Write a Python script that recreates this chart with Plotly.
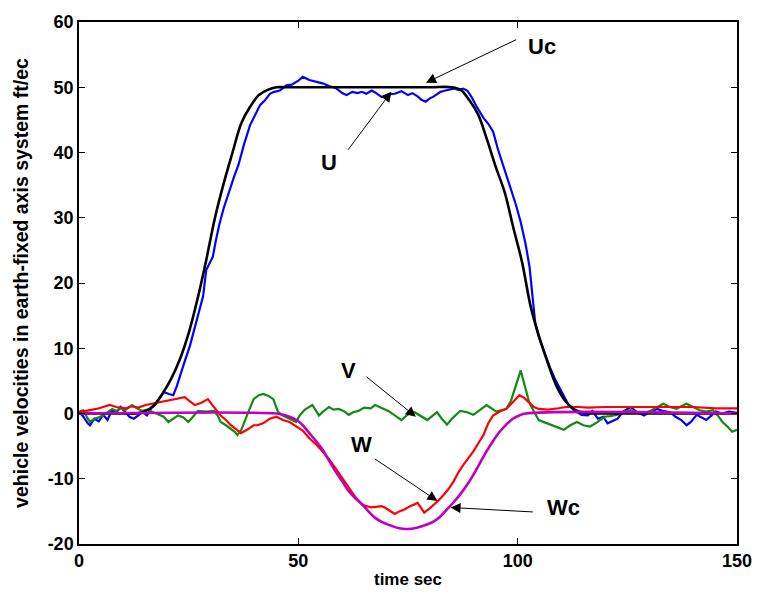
import plotly.graph_objects as go

# ---------------- data ----------------
u_t = [0, 1, 2, 2.5, 3.5, 4.5, 5.5, 6.5, 7.5, 8.5, 9.5, 10.5, 11.5, 12.5, 13.5, 14.5, 15.5, 16.5, 17.5, 18.5,
       19.3, 20.5, 21.5, 22.3, 23, 24, 25.3, 26.7, 27.5, 28.3, 29, 30, 30.5, 31.2, 32, 33, 34.2, 35.3, 36.4, 37.6,
       39, 40.2, 41.3, 42.4, 43.5, 44.5, 45.8, 47.3, 48.5, 50, 51, 52.5, 54, 55.5, 57, 58.5, 60, 61, 62.3, 63.5,
       64.5, 65.5, 66.7, 67.5, 69, 70.5, 72, 73.5, 75, 76, 77.2, 78, 79, 80, 80.9, 82.4, 83.5, 85.4, 86.5, 87.6,
       88.5, 89.5, 90.5, 91.3, 92.2, 93.3, 94.4, 95.5, 96.6, 97.6, 98.5, 99.6, 100.7, 101.8, 102.7, 103.4, 104,
       104.8, 105.5, 106.3, 107.4, 108.5, 109.5, 110.5, 111.6, 113, 114.6, 116, 117, 118.3, 119.5, 120.5, 121.5,
       122.8, 124, 125.8, 127, 128.8, 130, 131.8, 133, 134.8, 136, 137.3, 138.5, 139.5, 140.8, 142, 143, 144,
       145.2, 146.5, 148.2, 150]
u_v = [0.3, -0.5, -1.5, -1.8, -0.8, -1.2, -0.2, -1.0, 0.5, 0.2, 1.0, 0.3, -0.5, -0.8, -0.3, 0.2, -0.3, 0.8, 1.5, 2.5,
       3.3, 3.0, 2.8, 4.2, 5.8, 7.8, 10.4, 13.9, 16, 18, 22, 23.3, 24, 26.5, 29, 31.5, 34.1, 36.2, 38.2, 41.2,
       44.2, 45.8, 47.3, 48, 49, 49.3, 49.5, 50.3, 50.4, 51, 51.6, 51.1, 50.9, 50.6, 50.2, 49.9, 49.1, 48.8, 49.3, 49.1,
       49.3, 49, 49.5, 49.2, 48.5, 48.9, 49, 49.4, 48.8, 49.1, 48.6, 48.1, 47.8, 48.3, 48.6, 49.3, 49.5, 49.8, 49.6, 49.8,
       49.5, 48.5, 47.2, 46.3, 45.3, 44.4, 43.2, 40.5, 38.2, 36.4, 34.5, 32, 29.3, 26, 22.5, 18, 13.9,
       11.8, 10.5, 8.9, 7, 5.3, 4.0, 2.5, 1.3, 0.4, -0.2, -0.3, 0.4, -0.8, -0.5, -1.5, -1.2,
       -0.8, 0.3, 1.0, 0.3, -0.3, 0.2, 0.7, 0.4, 0.2, -0.5, -1.0, -1.8, -1.3, -0.2, -0.6, -1.0, -0.4,
       0.3, 0.0, 0.3, 0.1]

v_t = [0, 1, 2, 2.5, 3.5, 4.5, 5.4, 6.5, 7.6, 8.5, 9.5, 10.5, 12.1, 13.2, 14.4, 15.5, 16.5, 18.2, 19.3, 20.4,
       21.5, 22.6, 23.8, 24.9, 26, 27.1, 29, 30.8, 31.6, 32.3, 33.5, 34.6, 35.5, 36.1, 37, 38.3, 39.2, 39.8, 41, 42,
       43.2, 44.3, 45.4, 46.5, 48, 49.5, 50.3, 51.5, 53.2, 54, 54.7, 55.5, 57, 58, 59.2, 60.3, 61.5, 62.5, 63.7, 65,
       66.5, 67.5, 69, 70.5, 72, 73.5, 74.5, 75.5, 76.5, 78, 79.4, 80.5, 81.6, 82.7, 83.9, 85, 86.9, 88.5, 89.9, 91.5,
       92.9, 94, 95.1, 96.2, 97.4, 98.5, 99.6, 100.7, 101.8, 102.6, 103.4, 104.1, 104.8, 106.3, 107.8, 109, 110.5, 112,
       113.5, 115, 116.5, 118, 119.8, 121, 122.8, 124.3, 125.8, 127.3, 128.8, 130.5, 132, 133.2, 134.7, 136.2, 137.3,
       138.5, 140, 141.5, 143, 144.5, 145.6, 146.7, 147.8, 148.9, 150]
v_v = [0.3, 0.5, -0.8, -1.3, -0.8, -0.6, -0.3, 0.2, 0.7, 0.4, 0.8, 0.5, 1.3, 0.8, 0.4, 0.6, 0.3, -0.2, -0.5, -1.3,
       -0.8, -0.3, -0.6, -1.3, -0.5, 0.4, 0.3, 0.4, -0.3, -1.3, -1.8, -2.3, -2.8, -3.3, -2.5, -0.3, 1.2, 2.2, 2.8, 3.0,
       2.7, 2.2, 0.2, -0.3, -0.8, -1.3, -0.3, 0.6, 1.3, 0.5, -0.3, 0.2, 1.0, 0.6, 0.7, 0.4, -0.2, 0.2, 0.4, 0.9,
       0.8, 1.3, 0.8, 0.4, -0.3, -1.0, -0.4, 0.1, 0.2, -0.4, -1.0, -0.4, 0.2, -0.8, -1.7, -0.8, 0.4, 0.2, -0.2, 0.6,
       1.3, 0.8, 0.3, 0.5, 0.7, 2.0, 4.3, 6.6, 3.8, 1.8, 0.7, -0.2, -1.0, -1.4, -1.8, -2.2, -2.5, -1.8,
       -1.3, -1.8, -2.0, -1.4, -0.5, -0.4, -0.2, 0.3, 0.5, 0.2, 0.0, 0.5, 1.0, 1.5, 1.0, 0.7, 1.1,
       1.5, 1.0, 0.5, 0.3, 0.5, -0.3, -1.3, -2.0, -2.8, -2.5]

w_t = [0, 2, 4, 5.5, 7, 8.5, 10.7, 12, 13.5, 15.2, 16.7, 18.2, 19.6, 21.1, 22.6, 24.1, 25, 26.4, 27.8, 29.4,
       30.5, 31.6, 32.3, 33.5, 34.6, 35.8, 36.9, 38.3, 39.8, 40.6, 42, 43.5, 45, 46.5, 48, 49.6, 51, 52.5, 54, 55.5,
       57, 58.5, 60, 61.5, 63, 64.5, 65.5, 66.7, 68, 69, 69.7, 71, 72, 73, 74.2, 75.5, 77.2, 78, 78.7, 80,
       81, 82, 83.2, 84.3, 85.4, 86.5, 87.7, 88.8, 89.9, 91, 92.2, 93.3, 94.4, 95.9, 97.4, 99, 100.4, 101.5, 102.6,
       103.7, 104.8, 107, 109.3, 111, 113.8, 116, 120, 125, 130, 135, 140, 145, 150]
w_v = [0.2, 0.4, 0.7, 1.0, 1.3, 1.0, 0.8, 1.1, 0.9, 1.3, 1.5, 1.8, 2.0, 2.2, 2.4, 2.5, 2.0, 1.3, 1.6, 2.2,
       1.2, 0.2, -0.3, -1.0, -1.8, -2.4, -3.0, -2.5, -1.8, -1.8, -1.5, -0.8, -0.5, -1.0, -1.3, -2.0, -2.6, -3.8, -4.7, -5.8,
       -7.0, -8.4, -9.9, -11.4, -12.8, -13.9, -14.2, -14.4, -14.3, -14.2, -14.4, -15.0, -15.4, -15.0, -14.7, -14.2, -13.7, -14.5, -15.2, -14.5,
       -13.9, -13.3, -12.4, -11.5, -10.4, -9.0, -7.8, -6.8, -5.8, -4.6, -3.3, -1.5, -0.3, 0.3, 0.7, 1.8, 2.8, 2.4, 1.7,
       1.0, 0.7, 0.6, 0.8, 1.0, 1.0, 0.9, 1.0, 1.0, 0.9, 0.9, 1.0, 0.8, 0.8]

uc_t = [0, 5, 10, 13, 15, 17, 19, 21, 23, 25, 27, 29, 31, 33, 35, 37, 39, 41, 43, 45, 47, 50, 60, 70, 80, 85,
        87, 89, 91, 93, 95, 97, 99, 101, 103, 105, 107, 109, 111, 113, 115, 117, 120, 150]
uc_v = [0, 0, 0, 0, 0.3, 1.2, 3.0, 5.3, 8.3, 12.3, 17.5, 23.5, 30, 35.3, 40, 44.5, 47, 48.8, 49.6, 50, 50, 50, 50, 50, 50, 50,
        49.6, 48, 45.8, 42, 37.8, 34, 28.5, 23.2, 16.3, 11.5, 7.5, 4, 1.8, 0.6, 0.1, 0, 0, 0]

wc_t = [0, 45, 46.5, 48, 49.6, 51, 52.5, 54, 55.5, 57, 58.5, 60, 61.5, 63, 64.5, 66, 67.5, 69, 71.2, 73, 74.9,
        77, 79, 81, 82.5, 83.9, 85.4, 86.9, 88.4, 89.9, 91.4, 92.9, 94.4, 95.9, 97.4, 98.9, 100.4, 101.8, 150]
wc_v = [0, 0, -0.2, -0.5, -1.0, -1.8, -3.0, -4.2, -5.5, -7.2, -8.9, -10.4, -11.9, -13.0, -13.9, -15.0, -16.0, -16.6, -17.2, -17.6, -17.7,
        -17.5, -17.1, -16.5, -15.7, -14.7, -13.6, -12.4, -11.0, -9.4, -7.6, -5.8, -4.2, -2.8, -1.7, -0.8, -0.3, 0, 0]

x_ticks = [0, 50, 100, 150]
y_ticks = [-20, -10, 0, 10, 20, 30, 40, 50, 60]

# labels: (text, text_x, text_y, tail_x, tail_y, head_x, head_y)
labels = [
    ("Uc", 105.6, 56.2, 100.0, 57.4, 79.1, 50.7),
    ("U", 56.9, 38.5, 61.1, 40.2, 71.2, 49.3),
    ("V", 61.4, 6.6, 65.2, 5.8, 76.8, -0.5),
    ("W", 64.4, -4.8, 67.1, -6.8, 81.7, -13.4),
    ("Wc", 110.5, -14.4, 103.8, -15.1, 84.7, -14.4),
]

font_family = "Liberation Sans, Arial, sans-serif"

fig = go.Figure()
fig.add_trace(go.Scatter(x=u_t, y=u_v, mode="lines", line=dict(color="#0000FF", width=2.2), name="U"))
fig.add_trace(go.Scatter(x=v_t, y=v_v, mode="lines", line=dict(color="#108A10", width=2.2), name="V"))
fig.add_trace(go.Scatter(x=w_t, y=w_v, mode="lines", line=dict(color="#FF0000", width=2.2), name="W"))
fig.add_trace(go.Scatter(x=uc_t, y=uc_v, mode="lines", line=dict(color="#000000", width=2.6, shape="spline"), name="Uc"))
fig.add_trace(go.Scatter(x=wc_t, y=wc_v, mode="lines", line=dict(color="#BF00BF", width=2.6, shape="spline"), name="Wc"))

for txt, tx, ty, ax_, ay_, hx, hy in labels:
    fig.add_annotation(x=tx, y=ty, text=txt, showarrow=False,
                       font=dict(family=font_family, size=22, color="black", weight="bold"))
    fig.add_annotation(x=hx, y=hy, ax=ax_, ay=ay_, axref="x", ayref="y", text="",
                       showarrow=True, arrowhead=2, arrowsize=2, arrowwidth=1, arrowcolor="black")

axis_common = dict(showline=True, linecolor="black", linewidth=1.5, mirror="allticks",
                   ticks="inside", ticklen=6, tickcolor="black", tickwidth=1,
                   showgrid=False, zeroline=False,
                   tickfont=dict(family=font_family, size=18, color="black", weight="bold"))

fig.update_xaxes(range=[0, 150], tickvals=x_ticks, ticktext=[str(v) for v in x_ticks],
                 title=dict(text="time sec", font=dict(family=font_family, size=17, color="black", weight="bold"),
                            standoff=3),
                 **axis_common)
fig.update_yaxes(range=[-20, 60], tickvals=y_ticks, ticktext=[str(v) for v in y_ticks],
                 title=dict(text="vehicle velocities in earth-fixed axis system ft/ec",
                            font=dict(family=font_family, size=19.5, color="black", weight="bold"),
                            standoff=14),
                 **axis_common)

fig.update_layout(width=764, height=601, margin=dict(l=79, r=16, t=17, b=57),
                  paper_bgcolor="white", plot_bgcolor="white", showlegend=False)

fig.write_html("out.html")
